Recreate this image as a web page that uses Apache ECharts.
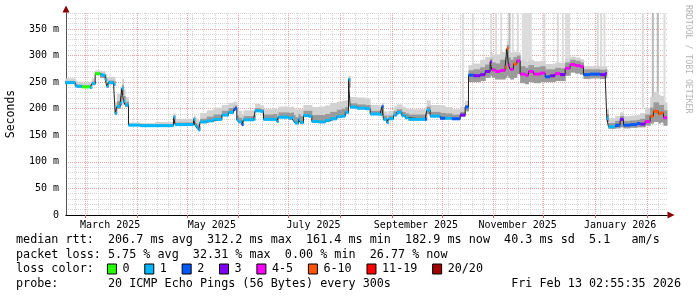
<!DOCTYPE html>
<html><head><meta charset="utf-8">
<script src="https://cdn.jsdelivr.net/npm/echarts@6/dist/echarts.min.js"></script>
<style>html,body{margin:0;padding:0;background:#fff}#c{width:697px;height:297px}</style>
</head><body><div id="c"></div>
<script>
// ---------- data ----------
const startTime = '2025-02-17T12:00:00';
const endTime = '2026-02-13T02:55:35';

const dates = [
 '2025-02-17','2025-02-23','2025-02-24','2025-02-27','2025-03-04','2025-03-05','2025-03-07','2025-03-10','2025-03-11','2025-03-13',
 '2025-03-14','2025-03-15','2025-03-18','2025-03-19','2025-03-20','2025-03-22','2025-03-23','2025-03-24','2025-03-25','2025-03-27',
 '2025-04-03','2025-04-12','2025-04-23','2025-04-24','2025-05-05','2025-05-06','2025-05-07','2025-05-08','2025-05-09','2025-05-13',
 '2025-05-17','2025-05-22','2025-05-26','2025-05-29','2025-05-30','2025-05-31','2025-06-01','2025-06-03','2025-06-04','2025-06-10',
 '2025-06-11','2025-06-14','2025-06-16','2025-06-22','2025-06-24','2025-06-25','2025-07-01','2025-07-03','2025-07-04','2025-07-05',
 '2025-07-07','2025-07-08','2025-07-10','2025-07-13','2025-07-15','2025-07-19','2025-07-23','2025-07-26','2025-07-30','2025-08-02',
 '2025-08-04','2025-08-06','2025-08-07','2025-08-11','2025-08-16','2025-08-19','2025-08-25','2025-08-26','2025-08-27','2025-08-29',
 '2025-08-30','2025-09-02','2025-09-04','2025-09-07','2025-09-09','2025-09-11','2025-09-21','2025-09-22','2025-09-24','2025-09-30',
 '2025-10-03','2025-10-07','2025-10-12','2025-10-15','2025-10-17','2025-10-20','2025-10-24','2025-10-27','2025-10-30','2025-10-31',
 '2025-11-02','2025-11-05','2025-11-08','2025-11-09','2025-11-10','2025-11-11','2025-11-13','2025-11-15','2025-11-17','2025-11-20',
 '2025-11-22','2025-11-25','2025-11-29','2025-12-02','2025-12-05','2025-12-08','2025-12-11','2025-12-14','2025-12-17','2025-12-20',
 '2025-12-23','2025-12-25','2025-12-29','2026-01-04','2026-01-07','2026-01-08','2026-01-09','2026-01-13','2026-01-16','2026-01-18',
 '2026-01-22','2026-01-26','2026-01-28','2026-01-31','2026-02-03','2026-02-05','2026-02-08','2026-02-09','2026-02-11'
];
// median rtt in ms
const median = [
 249,243,242,241,240,247,266,264,263,255,
 242,249,246,191,204,210,238,214,207,169,
 168,168,184,170,180,168,164,160,175,177,
 180,188,193,198,201,179,175,170,179,180,
 196,195,180,180,176,184,182,184,177,173,
 180,174,187,186,176,175,178,181,185,186,
 193,255,203,201,200,190,189,204,180,174,
 181,188,193,187,183,180,180,197,186,182,
 182,181,188,203,263,262,264,270,288,273,
 270,272,278,313,282,274,284,290,265,263,
 270,265,267,260,262,266,264,276,283,281,
 279,264,265,264,266,182,166,169,180,169,
 170,172,171,176,186,195,190,192,183
];
// loss colour class (0:"0" 1:"1" 2:"2" 3:"3" 4:"4-5" 5:"6-10" 6:"11-19" 7:"20/20")
const loss = [
 1,1,1,0,1,1,0,1,1,1,
 1,1,1,1,1,1,1,1,1,1,
 1,1,1,1,1,1,1,1,1,1,
 1,1,1,2,2,1,1,2,1,1,
 1,1,1,1,1,1,1,1,1,1,
 1,1,1,1,1,1,1,1,1,1,
 1,1,1,1,1,1,1,2,1,1,
 1,1,1,1,1,1,2,1,1,2,
 1,2,3,2,2,3,3,3,3,4,
 4,4,5,5,4,4,5,4,4,4,
 4,4,4,2,3,4,3,4,4,4,
 4,2,2,3,3,1,1,2,3,2,
 2,2,3,4,5,5,5,5,4
];
// smoke: lowest ping, top of dense smoke, top of light smoke (ms)
const smokeLo = [
 247,241,240,239,238,245,263,258,258,251,
 240,246,243,189,200,206,226,208,203,168,
 167,167,172,169,170,166,162,159,173,175,
 178,186,191,196,199,177,173,168,177,178,
 194,193,178,178,174,182,180,182,175,171,
 178,172,185,184,174,173,176,179,183,184,
 191,240,201,199,198,188,187,188,178,172,
 179,186,191,185,181,178,178,190,184,180,
 180,179,185,195,250,250,252,258,262,258,
 255,255,258,262,258,255,258,265,248,246,
 250,248,250,250,250,252,252,262,268,266,
 264,256,257,256,258,175,162,163,165,163,
 164,165,165,168,172,175,172,174,168
];
const smokeMid = [
 252,247,245,244,244,251,268,266,265,259,
 250,253,252,200,214,224,244,224,213,171,
 170,171,187,174,183,173,170,167,181,185,
 189,196,201,204,206,187,183,178,186,188,
 201,199,189,190,186,193,192,193,188,184,
 190,186,196,196,188,188,190,194,198,200,
 203,257,210,208,207,196,195,206,187,181,
 187,195,199,194,191,189,191,204,194,192,
 191,189,194,207,272,274,278,283,294,287,
 285,292,297,320,297,292,297,300,280,277,
 282,278,280,274,274,277,276,287,292,290,
 287,274,274,273,274,190,173,177,186,177,
 178,179,181,189,202,212,207,207,197
];
const smokeHi = [
 257,253,251,249,250,257,272,271,270,265,
 257,260,258,212,228,240,256,236,222,174,
 173,175,191,181,187,182,180,178,192,197,
 202,207,211,213,213,199,196,190,197,199,
 209,206,199,201,199,204,203,204,201,198,
 201,199,207,207,203,204,206,211,213,215,
 216,262,222,221,219,207,204,211,195,191,
 196,204,208,204,201,199,203,216,207,206,
 203,199,204,215,282,285,292,297,307,302,
 302,307,312,328,312,306,307,306,292,289,
 292,289,290,284,284,287,286,294,298,296,
 293,280,280,279,280,200,182,186,193,186,
 187,188,192,202,222,232,226,224,212
];
// full-height outlier columns
const spikeFrom = ['2025-10-13','2025-10-19','2025-10-30','2025-11-02','2025-11-05','2025-11-10','2025-11-12','2025-11-15','2025-11-18','2025-12-01','2025-12-09','2025-12-12','2025-12-14','2026-01-02','2026-01-04','2026-01-06','2026-01-29','2026-02-04','2026-02-07','2026-02-11'];
const spikeTo   = ['2025-10-14','2025-10-20','2025-10-31','2025-11-03','2025-11-06','2025-11-11','2025-11-13','2025-11-16','2025-11-24','2025-12-02','2025-12-10','2025-12-13','2025-12-17','2026-01-03','2026-01-05','2026-01-07','2026-01-30','2026-02-05','2026-02-08','2026-02-12'];
const spikeBase = [205,280,300,300,305,312,306,305,290,286,286,286,292,279,279,279,200,215,215,210];
const spikeDark = [0,0,0,0,0,1,0,0,0,0,0,0,0,0,0,0,0,1,1,0];

// axis ticks and labels
const monthStarts = ['2025-03-01','2025-04-01','2025-05-01','2025-06-01','2025-07-01','2025-08-01','2025-09-01','2025-10-01','2025-11-01','2025-12-01','2026-01-01','2026-02-01'];
const firstSunday = '2025-02-23';
const xLabelDates = ['2025-03-16','2025-05-16','2025-07-16','2025-09-15T12:00:00','2025-11-15T12:00:00','2026-01-16'];
const xLabels = ['March 2025','May 2025','July 2025','September 2025','November 2025','January 2026'];
const yTickValues = [0,50,100,150,200,250,300,350];
const yTickLabels = ['0','50 m','100 m','150 m','200 m','250 m','300 m','350 m'];

const lossColors = ['#26ff00','#00b8ff','#0059ff','#7e00ff','#ff00ff','#ff5500','#ff0000','#a10000'];
const lossLabels = ['0','1','2','3','4-5','6-10','11-19','20/20'];

const statLines = [
 'median rtt:  206.7 ms avg  312.2 ms max  161.4 ms min  182.9 ms now  40.3 ms sd  5.1   am/s',
 'packet loss: 5.75 % avg  32.31 % max  0.00 % min  26.77 % now'
];
const lossTitle = 'loss color:';
const probeLine = 'probe:       20 ICMP Echo Pings (56 Bytes) every 300s';
const stampLine = 'Fri Feb 13 02:55:35 2026';
const yName = 'Seconds';
const watermark = 'RRDTOOL / TOBI OETIKER';

// ---------- build ----------
const MONO = "'DejaVu Sans Mono', monospace";
const T = s => +echarts.time.parse(s);
const tStart = T(startTime), tEnd = T(endTime);
const DAY = 86400000;
const segs = dates.map((d, i) => [T(d), i + 1 < dates.length ? T(dates[i + 1]) : tEnd]);
const sundays = [];
for (let t = T(firstSunday); t < tEnd; t += 7 * DAY) sundays.push(t);
const labelTimes = xLabelDates.map(T);

function bandSeries(lowArr, highArr, color, z) {
  return {
    type: 'custom', xAxisIndex: 1, yAxisIndex: 1, z, silent: true,
    encode: {x: [0, 1], y: [2, 3]},
    data: segs.map((s, i) => [s[0], s[1], lowArr[i], highArr[i]]),
    renderItem(params, api) {
      const a = api.coord([api.value(0), api.value(3)]);
      const b = api.coord([api.value(1), api.value(2)]);
      return {type: 'rect', shape: {x: a[0], y: a[1], width: b[0] - a[0] + 0.5, height: b[1] - a[1]}, style: {fill: color}};
    }
  };
}

const spikeSeries = {
  type: 'custom', xAxisIndex: 1, yAxisIndex: 1, z: 2, silent: true,
  encode: {x: [0, 1], y: [2, 3]},
  data: spikeFrom.map((f, i) => [T(f), T(spikeTo[i]), spikeBase[i], spikeDark[i]]),
  renderItem(params, api) {
    const a = api.coord([api.value(0), 380]);
    const b = api.coord([api.value(1), api.value(2)]);
    return {type: 'rect', shape: {x: a[0], y: a[1], width: Math.max(2, b[0] - a[0]), height: b[1] - a[1]},
            style: {fill: api.value(3) ? '#b8b8b8' : '#dcdcdc'}};
  }
};

const lossSeries = {
  type: 'custom', xAxisIndex: 1, yAxisIndex: 1, z: 7, silent: true,
  encode: {x: [0, 1], y: [2]},
  data: segs.map((s, i) => [s[0], s[1], median[i], loss[i]]),
  renderItem(params, api) {
    const a = api.coord([api.value(0), api.value(2)]);
    const b = api.coord([api.value(1), api.value(2)]);
    return {type: 'rect', shape: {x: a[0], y: a[1] - 1.5, width: b[0] - a[0], height: 3},
            style: {fill: lossColors[api.value(3)]}};
  }
};

const medianLine = {
  type: 'line', xAxisIndex: 1, yAxisIndex: 1, z: 6, step: 'end', symbol: 'none', silent: true,
  lineStyle: {color: '#202020', width: 1},
  data: dates.map((d, i) => [T(d), median[i]]).concat([[tEnd, median[median.length - 1]]])
};

// legend / text graphics
const CW = 7.07, LX = 16;
const g = [];
statLines.forEach((s, i) => g.push({type: 'text', left: LX, top: 234 + i * 14.5,
  style: {text: s, font: `11.75px ${MONO}`, fill: '#000'}}));
g.push({type: 'text', left: LX, top: 263, style: {text: lossTitle, font: `11.75px ${MONO}`, fill: '#000'}});
let sx = LX + 13 * CW - 0.5;
lossLabels.forEach((lab, i) => {
  g.push({type: 'rect', shape: {x: sx, y: 264, width: 9, height: 10}, style: {fill: lossColors[i], stroke: '#000', lineWidth: 1}});
  g.push({type: 'text', left: sx + 15, top: 263, style: {text: lab, font: `11.75px ${MONO}`, fill: '#000'}});
  sx += 15 + lab.length * CW + 15.3;
});
g.push({type: 'text', left: LX, top: 277.5, style: {text: probeLine, font: `11.75px ${MONO}`, fill: '#000'}});
g.push({type: 'text', right: 16, top: 277.5, style: {text: stampLine, font: `11.75px ${MONO}`, fill: '#000'}});
g.push({type: 'text', x: 11, y: 114, rotation: Math.PI / 2,
  style: {text: yName, font: `11.5px ${MONO}`, fill: '#000', align: 'center', verticalAlign: 'middle'}});
g.push({type: 'text', x: 688, y: 5, rotation: -Math.PI / 2,
  style: {text: watermark, font: `8.2px ${MONO}`, fill: '#b4b4b4', align: 'left', verticalAlign: 'middle'}});

const red = '#e8a2a2';
const grey = '#d4d4d4';
const option = {
  animation: false,
  backgroundColor: '#ffffff',
  grid: {left: 66, right: 30, top: 13, bottom: 82, containLabel: false},
  xAxis: [
    {type: 'value', position: 'bottom', min: tStart, max: tEnd,
     axisLine: {show: true, onZero: false, symbol: ['none', 'triangle'], symbolSize: [7, 7], symbolOffset: [0, 4], lineStyle: {color: '#8b0000'}},
     axisTick: {show: false, customValues: sundays}, axisLabel: {show: false},
     splitLine: {show: true, lineStyle: {color: grey, type: 'dotted', width: 1}}},
    {type: 'value', position: 'bottom', min: tStart, max: tEnd,
     axisLine: {show: true, onZero: false, lineStyle: {color: '#000', width: 1}},
     axisTick: {show: true, customValues: monthStarts.map(T), length: 3, lineStyle: {color: '#d06060'}},
     axisLabel: {show: true, customValues: labelTimes, margin: 5, color: '#000', fontFamily: MONO, fontSize: 10,
       formatter: v => { const k = labelTimes.indexOf(v); return k >= 0 ? xLabels[k] : ''; }},
     splitLine: {show: true, lineStyle: {color: red, type: 'dotted', width: 1}}}
  ],
  yAxis: [
    {type: 'value', position: 'left', min: 0, max: 380, interval: 10,
     axisLine: {show: true, onZero: false, symbol: ['none', 'triangle'], symbolSize: [7, 7], symbolOffset: [0, 4], lineStyle: {color: '#8b0000'}},
     axisTick: {show: false}, axisLabel: {show: false},
     splitLine: {show: true, lineStyle: {color: grey, type: 'dotted', width: 1}}},
    {type: 'value', position: 'left', min: 0, max: 380, interval: 50,
     axisLine: {show: true, onZero: false, lineStyle: {color: '#555', width: 1}},
     axisTick: {show: false},
     axisLabel: {show: true, margin: 7, color: '#000', fontFamily: MONO, fontSize: 10, showMaxLabel: false,
       formatter: v => { const k = yTickValues.indexOf(v); return k >= 0 ? yTickLabels[k] : ''; }},
     splitLine: {show: true, lineStyle: {color: [red, red, red, red, red, red, red, red, 'rgba(0,0,0,0)'], type: 'dotted', width: 1}}}
  ],
  series: [
    spikeSeries,
    bandSeries(smokeLo, smokeHi, '#d2d2d2', 3),
    bandSeries(smokeLo, smokeMid, '#9a9a9a', 4),
    medianLine,
    lossSeries
  ],
  graphic: g
};
const chart = echarts.init(document.getElementById('c'), null, {renderer: 'canvas'});
chart.setOption(option);
</script></body></html>
